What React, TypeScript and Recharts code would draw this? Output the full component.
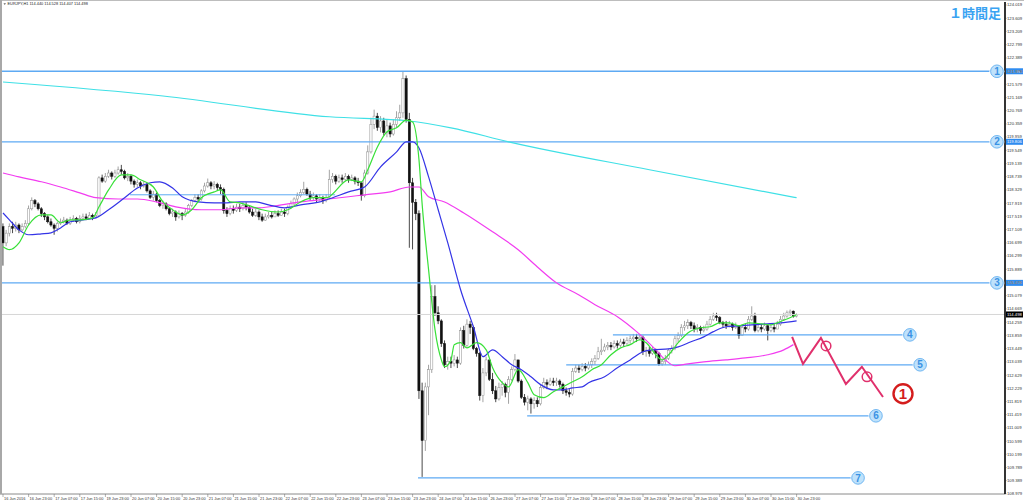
import React from 'react'
import {
  ComposedChart,
  Bar,
  Line,
  XAxis,
  YAxis,
  ReferenceLine,
  ReferenceDot,
} from 'recharts'

// EURJPY H1, 16 Jun 2016 -> 30 Jun 2016, one entry per hourly bar (open = previous close)
const firstOpen = 117.2

const closes = [
  116.7, 117.0, 117.2, 117.15, 117.25, 117.1, 117.2, 117.3, 117.75, 118.0,
  117.9, 117.75, 117.6, 117.5, 117.35, 117.25, 117.15, 117.3, 117.35, 117.4,
  117.3, 117.4, 117.45, 117.35, 117.45, 117.5, 117.45, 117.55, 117.5, 117.55,
  118.7, 118.6, 118.75, 118.85, 118.75, 118.85, 118.95, 118.9, 118.7, 118.75,
  118.6, 118.5, 118.55, 118.45, 118.5, 118.3, 118.1, 118.2, 118.0, 117.85,
  117.9, 117.75, 117.6, 117.65, 117.5, 117.6, 117.55, 117.65, 117.85, 118.0,
  118.1, 118.05, 118.3, 118.45, 118.55, 118.45, 118.5, 118.4, 118.35, 117.7,
  117.6, 117.75, 117.7, 117.8, 117.75, 117.85, 117.8, 117.65, 117.55, 117.65,
  117.5, 117.4, 117.5, 117.55, 117.5, 117.6, 117.55, 117.65, 117.6, 117.8,
  117.9, 118.05, 118.15, 118.25, 118.35, 118.2, 118.1, 118.15, 118.05, 118.1,
  118.0, 118.1, 118.65, 118.75, 118.6, 118.7, 118.65, 118.75, 118.65, 118.7,
  118.6, 118.55, 118.15, 118.85, 119.5, 120.35, 120.6, 120.25, 120.45, 120.1,
  120.3, 120.05, 120.35, 120.55, 120.7, 121.75, 120.5, 118.55, 117.95, 117.6,
  112.15, 110.62, 112.27, 112.8, 115.05, 114.55, 114.3, 113.6, 112.95, 113.05,
  113.0, 113.1, 113.0, 114.0, 113.55, 114.2, 114.1, 113.45, 113.3, 112.0,
  112.7, 113.1, 112.5, 112.15, 111.9, 112.25, 112.35, 112.1, 112.5, 112.8,
  113.1, 112.45, 111.95, 111.8, 111.9, 111.75, 111.85, 111.75, 112.25, 112.4,
  112.35, 112.45, 112.4, 112.45, 112.35, 112.15, 112.1, 112.05, 112.75, 112.85,
  112.8, 112.9, 112.85, 112.95, 113.05, 113.15, 113.35, 113.4, 113.5, 113.55,
  113.5, 113.6, 113.55, 113.65, 113.6, 113.7, 113.75, 113.8, 113.75, 113.8,
  113.35, 113.4, 113.3, 113.4, 113.3, 112.98, 113.05, 113.15, 113.4, 113.45,
  113.75, 113.85, 114.1, 114.15, 114.25, 114.15, 114.05, 114.1, 114.0, 114.05,
  114.2, 114.35, 114.45, 114.4, 114.25, 114.2, 114.15, 114.2, 114.1, 114.15,
  113.85, 114.1, 114.05, 114.35, 114.45, 114.0, 114.1, 114.05, 114.15, 114.0,
  114.1, 114.05, 114.2, 114.35, 114.45, 114.55, 114.6, 114.44, 114.498,
]

const highs = [
  117.3, 117.1, 117.3, 117.35, 117.35, 117.3, 117.3, 117.4, 117.85, 118.1,
  118.05, 117.95, 117.8, 117.65, 117.55, 117.45, 117.3, 117.35, 117.45, 117.5,
  117.45, 117.5, 117.55, 117.5, 117.55, 117.6, 117.6, 117.65, 117.6, 117.65,
  118.75, 118.8, 118.85, 118.95, 118.9, 118.95, 119.05, 119.1, 118.95, 118.85,
  118.8, 118.65, 118.65, 118.6, 118.6, 118.55, 118.35, 118.3, 118.25, 118.05,
  118.0, 117.95, 117.8, 117.75, 117.7, 117.7, 117.65, 117.75, 117.9, 118.05,
  118.2, 118.2, 118.35, 118.55, 118.68, 118.6, 118.6, 118.55, 118.5, 118.4,
  117.8, 117.85, 117.85, 117.9, 117.9, 117.95, 117.95, 117.85, 117.75, 117.75,
  117.7, 117.6, 117.6, 117.65, 117.65, 117.7, 117.7, 117.75, 117.75, 117.85,
  118.0, 118.1, 118.25, 118.35, 118.58, 118.4, 118.3, 118.25, 118.2, 118.2,
  118.15, 118.2, 118.95, 118.85, 118.8, 118.8, 118.8, 118.85, 118.8, 118.8,
  118.75, 118.7, 118.55, 118.95, 119.7, 120.55, 120.8, 120.7, 120.6, 120.55,
  120.5, 120.4, 120.5, 120.75, 120.95, 121.98, 121.85, 120.7, 118.7, 118.05,
  117.7, 112.4, 112.4, 112.95, 115.4, 115.4, 114.75, 114.35, 113.7, 113.2,
  113.2, 113.25, 113.2, 114.1, 114.15, 114.35, 114.3, 114.15, 113.5, 113.35,
  112.85, 113.2, 113.05, 112.7, 112.3, 112.4, 112.45, 112.4, 112.6, 112.9,
  113.28, 113.05, 112.5, 112.05, 112.0, 111.95, 111.95, 111.95, 112.35, 112.55,
  112.5, 112.55, 112.55, 112.55, 112.5, 112.4, 112.25, 112.2, 112.85, 112.95,
  112.95, 113.0, 113.0, 113.05, 113.15, 113.25, 113.5, 113.75, 113.6, 113.65,
  113.65, 113.7, 113.7, 113.75, 113.75, 113.8, 113.85, 113.9, 113.9, 113.9,
  113.85, 113.5, 113.5, 113.5, 113.45, 113.35, 113.15, 113.25, 113.45, 113.55,
  113.85, 113.95, 114.2, 114.3, 114.35, 114.3, 114.25, 114.2, 114.15, 114.15,
  114.3, 114.45, 114.55, 114.55, 114.45, 114.3, 114.3, 114.3, 114.25, 114.25,
  114.15, 114.2, 114.2, 114.45, 114.75, 114.55, 114.2, 114.2, 114.25, 114.2,
  114.2, 114.2, 114.3, 114.45, 114.55, 114.62, 114.65, 114.62, 114.528,
]

const lows = [
  116.0, 116.6, 116.9, 117.0, 117.05, 117.0, 117.05, 117.15, 117.25, 117.7,
  117.8, 117.7, 117.5, 117.4, 117.3, 117.2, 116.95, 117.05, 117.25, 117.3,
  117.25, 117.25, 117.35, 117.3, 117.3, 117.4, 117.4, 117.45, 117.4, 117.45,
  118.5, 118.55, 118.55, 118.7, 118.65, 118.7, 118.8, 118.8, 118.65, 118.6,
  118.5, 118.4, 118.4, 118.35, 118.4, 118.25, 118.05, 118.0, 117.95, 117.8,
  117.75, 117.7, 117.55, 117.5, 117.38, 117.45, 117.4, 117.5, 117.6, 117.8,
  117.95, 117.95, 118.0, 118.25, 118.4, 118.35, 118.35, 118.3, 118.2, 117.6,
  117.5, 117.55, 117.6, 117.65, 117.65, 117.7, 117.7, 117.6, 117.5, 117.5,
  117.4, 117.35, 117.38, 117.45, 117.45, 117.5, 117.5, 117.55, 117.5, 117.55,
  117.75, 117.85, 117.95, 118.1, 118.2, 118.15, 118.0, 118.0, 117.95, 118.0,
  117.9, 117.95, 118.05, 118.55, 118.5, 118.55, 118.55, 118.6, 118.55, 118.6,
  118.5, 118.45, 118.0, 118.1, 118.8, 119.45, 120.2, 120.15, 120.1, 120.0,
  119.95, 119.95, 120.0, 120.25, 120.45, 120.55, 120.4, 116.55, 116.5, 117.4,
  111.9, 109.5, 110.3, 111.4, 112.7, 114.45, 114.2, 113.5, 112.85, 112.8,
  112.85, 112.9, 112.85, 112.95, 113.45, 113.5, 113.9, 113.4, 113.2, 111.85,
  111.8, 112.6, 112.45, 112.05, 111.8, 111.85, 112.0, 111.95, 111.75, 112.45,
  112.75, 112.4, 111.9, 111.7, 111.55, 111.45, 111.6, 111.65, 111.7, 112.2,
  112.2, 112.3, 112.3, 112.3, 112.25, 112.05, 112.0, 111.95, 112.0, 112.7,
  112.7, 112.75, 112.75, 112.8, 112.85, 112.95, 113.1, 113.25, 113.35, 113.4,
  113.4, 113.45, 113.45, 113.5, 113.5, 113.55, 113.6, 113.65, 113.65, 113.7,
  113.25, 113.2, 113.2, 113.25, 113.15, 112.92, 112.92, 112.95, 113.1, 113.3,
  113.4, 113.65, 113.8, 114.0, 114.05, 114.05, 113.95, 113.95, 113.9, 113.95,
  114.0, 114.15, 114.3, 114.3, 114.2, 114.1, 114.05, 114.1, 114.0, 114.05,
  113.75, 113.85, 113.95, 114.0, 114.3, 113.95, 113.95, 113.95, 114.0, 113.7,
  113.95, 113.95, 114.05, 114.15, 114.3, 114.4, 114.45, 114.4, 114.407,
]

// moving averages: [bar index, price]
const greenMA = [
  [0, 116.58], [2, 116.49], [5, 116.7], [8, 117.25], [12, 117.56], [15, 117.56], [18, 117.32],
  [21, 117.41], [24, 117.41], [28, 117.47], [30, 117.81], [33, 118.33], [37, 118.79], [40, 118.79],
  [43, 118.64], [47, 118.42], [50, 117.96], [53, 117.72], [56, 117.56], [59, 117.72], [62, 118.09],
  [66, 118.27], [68, 118.33], [71, 117.96], [74, 117.93], [78, 117.81], [81, 117.72], [86, 117.65],
  [89, 117.72], [93, 117.96], [97, 118.09], [101, 118.09], [108, 118.64], [112, 118.58], [114, 118.95],
  [117, 119.65], [120, 120.12], [123, 120.24], [126, 120.48], [128, 120.42], [130, 119.25], [131, 117.87],
  [133, 115.87], [135, 114.03], [137, 113.1], [138, 112.89], [140, 113.1], [141, 113.57], [143, 113.63],
  [145, 113.47], [148, 113.63], [151, 113.41], [153, 112.86], [156, 112.4], [158, 112.27], [161, 112.8],
  [164, 112.4], [166, 112.03], [169, 111.94], [172, 112.12], [175, 112.27], [178, 112.43], [181, 112.58],
  [184, 112.8], [187, 112.95], [190, 113.26], [193, 113.47], [196, 113.57], [199, 113.72], [201, 113.63],
  [204, 113.26], [206, 113.1], [208, 113.26], [211, 113.63], [214, 113.93], [218, 114.09], [221, 114.12],
  [224, 114.24], [227, 114.24], [230, 114.15], [233, 114.24], [237, 114.21], [240, 114.18], [242, 114.24],
  [245, 114.36], [248, 114.49],
]

const blueMA = [
  [0, 117.62], [2, 117.41], [5, 117.1], [8, 116.95], [12, 116.98], [15, 117.01], [18, 117.16],
  [21, 117.35], [25, 117.41], [29, 117.47], [33, 117.72], [38, 118.09], [42, 118.39], [46, 118.55],
  [49, 118.58], [53, 118.39], [56, 118.12], [61, 117.96], [66, 117.93], [70, 117.93], [74, 117.96],
  [79, 117.96], [83, 117.87], [88, 117.78], [93, 117.87], [99, 117.96], [103, 118.09], [108, 118.27],
  [113, 118.42], [118, 119.04], [123, 119.5], [126, 119.81], [128, 119.81], [130, 119.62], [133, 118.73],
  [136, 117.72], [139, 116.7], [143, 115.26], [147, 114.12], [150, 113.2], [153, 113.41], [156, 113.2],
  [159, 112.95], [162, 112.8], [165, 112.58], [168, 112.34], [172, 112.18], [175, 112.18], [178, 112.24],
  [181, 112.27], [183, 112.4], [188, 112.58], [192, 112.86], [196, 113.1], [200, 113.35], [203, 113.41],
  [208, 113.44], [211, 113.5], [215, 113.66], [219, 113.81], [222, 113.97], [226, 114.12], [230, 114.15],
  [234, 114.18], [239, 114.21], [243, 114.24], [248, 114.3],
]

const magentaMA = [
  [0, 118.85], [5, 118.73], [12, 118.58], [18, 118.42], [24, 118.24], [29, 118.09], [36, 118.05],
  [42, 118.05], [48, 117.96], [54, 117.81], [62, 117.72], [68, 117.72], [74, 117.78], [80, 117.78],
  [87, 117.87], [93, 117.96], [99, 118.02], [108, 118.12], [113, 118.18], [121, 118.27], [127, 118.42],
  [130, 118.42], [133, 118.12], [138, 117.96], [144, 117.62], [153, 117.04], [161, 116.49], [167, 115.96],
  [173, 115.47], [180, 115.1], [185, 114.8], [192, 114.43], [198, 113.97], [204, 113.41], [207, 113.1],
  [210, 112.92], [214, 112.98], [219, 113.04], [226, 113.1], [232, 113.16], [239, 113.26], [244, 113.41],
  [247, 113.57],
]

const cyanMA = [
  [0, 121.65], [50, 121.22], [102, 120.58], [127, 120.45], [140, 120.24], [158, 119.81],
  [202, 118.95], [248, 118.09],
]

// hand-drawn projection (red) and its two retest circles
const zigzag = [
  [246.6, 113.81], [250, 112.98], [255.6, 113.78], [263.4, 112.36], [268.4, 112.89], [275, 111.96],
]
const retests = [
  [257.2, 113.53], [270, 112.58],
]
const redMark = [281.25, 112.06]

// horizontal levels: label, price, start bar, end bar, marker bar
const levels = [
  { n: '1', price: 121.98, from: -0.9, to: 308.4, mark: 310.6 },
  { n: '2', price: 119.81, from: -0.9, to: 308.4, mark: 310.6 },
  { n: '3', price: 115.47, from: -0.9, to: 308.4, mark: 310.6 },
  { n: '4', price: 113.87, from: 190.6, to: 281.3, mark: 283.4 },
  { n: '5', price: 112.95, from: 176, to: 284.4, mark: 286.6 },
  { n: '6', price: 111.38, from: 163.8, to: 270.6, mark: 272.8 },
  { n: '7', price: 109.47, from: 129.7, to: 265, mark: 267.2 },
]
const oldLevel = { price: 118.18, from: 39.7, to: 103.8 }

const priceTags = [
  { price: 121.98, text: '121.983' },
  { price: 119.81, text: '119.806' },
  { price: 115.47, text: '115.478' },
]
const lastPrice = 114.498

const yTicks = [
  124.019, 123.609, 123.209, 122.799, 122.389, 121.979, 121.579, 121.169, 120.769, 120.359,
  119.959, 119.549, 119.139, 118.739, 118.329, 117.919, 117.519, 117.109, 116.699, 116.299,
  115.889, 115.479, 115.079, 114.669, 114.259, 113.859, 113.449, 113.039, 112.629, 112.229,
  111.819, 111.419, 111.009, 110.599, 110.199, 109.789, 109.389, 108.979,
]

const xLabels = [
  '16 Jun 2016', '16 Jun 23:00', '17 Jun 07:00', '17 Jun 15:00', '19 Jun 23:00', '20 Jun 07:00',
  '20 Jun 15:00', '20 Jun 23:00', '21 Jun 07:00', '21 Jun 15:00', '21 Jun 23:00', '22 Jun 07:00',
  '22 Jun 15:00', '22 Jun 23:00', '23 Jun 07:00', '23 Jun 15:00', '23 Jun 23:00', '24 Jun 07:00',
  '24 Jun 15:00', '26 Jun 23:00', '27 Jun 07:00', '27 Jun 15:00', '27 Jun 23:00', '28 Jun 07:00',
  '28 Jun 15:00', '28 Jun 23:00', '29 Jun 07:00', '29 Jun 15:00', '29 Jun 23:00', '30 Jun 07:00',
  '30 Jun 15:00', '30 Jun 23:00',
]
const xTicks = xLabels.map((_, k) => k * 8)

type Row = { [key: string]: number | undefined; x: number }

const rows: Row[] = closes.map((c, i) => {
  const o = i === 0 ? firstOpen : closes[i - 1]
  return { x: i, o, c, h: Math.max(highs[i], o, c), l: Math.min(lows[i], o, c) }
})
const put = (list: number[][], key: string) =>
  list.forEach(([i, v]) => {
    rows[i][key] = v
  })
put(greenMA, 'green')
put(blueMA, 'blue')
put(magentaMA, 'magenta')
put(cyanMA, 'cyan')
const data: Row[] = [...rows, ...zigzag.map(([x, v]) => ({ x, zig: v }))].sort((a, b) => a.x - b.x)

const FONT = '"Liberation Sans", Arial, sans-serif'
const LEVEL = '#5eaaf3'
const RED = '#e0306c'

const Candle = (props: any) => {
  const { x, y, width, height, payload } = props
  if (!payload || payload.h == null || !isFinite(y)) return null
  const { o, c, h, l } = payload
  const hgt = Math.abs(height)
  const top = Math.min(y, y + height)
  const k = h - l > 0 ? hgt / (h - l) : 0
  const cx = x + width / 2
  const bTop = top + (h - Math.max(o, c)) * k
  const bH = Math.max((Math.max(o, c) - Math.min(o, c)) * k, 0.6)
  const up = c >= o
  return (
    <g>
      <line x1={cx} x2={cx} y1={top} y2={top + hgt} stroke={up ? '#8c8c8c' : '#1a1a1a'} strokeWidth={0.8} />
      <rect
        x={cx - 1.1}
        y={bTop}
        width={2.2}
        height={bH}
        fill={up ? '#ffffff' : '#111111'}
        stroke={up ? '#8c8c8c' : '#111111'}
        strokeWidth={0.5}
      />
    </g>
  )
}

const XTick = ({ x, y, payload }: any) => (
  <g>
    <line x1={x} x2={x} y1={y - 2} y2={y + 1} stroke="#666" strokeWidth={0.5} />
    <text x={x + 1} y={y + 4} fontSize={3.9} fill="#333" fontFamily={FONT} textAnchor="start">
      {xLabels[Math.round(payload.value / 8)]}
    </text>
  </g>
)

const YTick = ({ x, y, payload }: any) => (
  <text x={x} y={y + 1.4} fontSize={4.2} fill="#333" fontFamily={FONT} textAnchor="start">
    {payload.value.toFixed(3)}
  </text>
)

const BlueMark = ({ cx, cy, n }: { cx: number; cy: number; n: string }) => (
  <g>
    <circle cx={cx} cy={cy} r={7.5} fill="#ffffff" opacity={0.9} />
    <circle cx={cx} cy={cy} r={6.3} fill="#bfe2fb" stroke="#6fb6f2" strokeWidth={1} />
    <text
      x={cx}
      y={cy + 3.6}
      textAnchor="middle"
      fontSize={10}
      fontWeight="bold"
      fill="#3a92e4"
      fontFamily={FONT}
    >
      {n}
    </text>
  </g>
)

const PriceTag = ({ cx, cy, text, dark }: { cx: number; cy: number; text: string; dark?: boolean }) => (
  <g>
    <rect x={cx + 1} y={cy - 3} width={17} height={6} fill={dark ? '#000' : '#2f8cf0'} />
    <text x={cx + 2} y={cy + 1.5} fontSize={4.2} fill="#fff" fontFamily={FONT}>
      {text}
    </text>
  </g>
)

export default function App() {
  return (
    <div style={{ position: 'relative', width: 1024, height: 504, background: '#fff' }}>
      <style>{'body{margin:0}'}</style>
      <ComposedChart
        width={1024}
        height={504}
        data={data}
        margin={{ top: 2, right: 0, bottom: 0, left: 0 }}
      >
        <XAxis
          dataKey="x"
          type="number"
          domain={[-0.9375, 313.125]}
          allowDataOverflow
          ticks={xTicks}
          interval={0}
          height={10}
          tickSize={0}
          tickMargin={2}
          tick={<XTick />}
          axisLine={{ stroke: '#8a8a8a', strokeWidth: 1 }}
        />
        <YAxis
          orientation="right"
          type="number"
          domain={[108.975, 124.111]}
          allowDataOverflow
          ticks={yTicks}
          interval={0}
          width={19}
          tickSize={1.5}
          tickMargin={0.5}
          tick={<YTick />}
          tickLine={{ stroke: '#333', strokeWidth: 0.5 }}
          axisLine={{ stroke: '#000', strokeWidth: 1.6 }}
        />

        <ReferenceLine y={lastPrice} stroke="#d6d6d6" strokeWidth={1} />
        {levels.map((lv) => (
          <ReferenceLine
            key={lv.n}
            segment={[
              { x: lv.from, y: lv.price },
              { x: lv.to, y: lv.price },
            ]}
            stroke={LEVEL}
            strokeWidth={1.3}
            ifOverflow="visible"
          />
        ))}
        <ReferenceLine
          segment={[
            { x: oldLevel.from, y: oldLevel.price },
            { x: oldLevel.to, y: oldLevel.price },
          ]}
          stroke={LEVEL}
          strokeWidth={1}
          ifOverflow="visible"
        />

        <Line dataKey="cyan" stroke="#3fe0e6" strokeWidth={1.2} dot={false} connectNulls type="monotone" isAnimationActive={false} />
        <Line dataKey="magenta" stroke="#f23cf0" strokeWidth={1.2} dot={false} connectNulls type="monotone" isAnimationActive={false} />
        <Bar dataKey={(d: Row) => (d.h != null ? [d.l, d.h] : null)} barSize={2} shape={<Candle />} isAnimationActive={false} />
        <Line dataKey="blue" stroke="#3434e6" strokeWidth={1.2} dot={false} connectNulls type="monotone" isAnimationActive={false} />
        <Line dataKey="green" stroke="#38e038" strokeWidth={1.2} dot={false} connectNulls type="monotone" isAnimationActive={false} />
        <Line dataKey="zig" stroke={RED} strokeWidth={2} dot={false} connectNulls type="linear" isAnimationActive={false} />

        {retests.map(([x, v], k) => (
          <ReferenceDot key={k} x={x} y={v} r={4.8} fill="none" stroke={RED} strokeWidth={1.5} />
        ))}
        <ReferenceDot
          x={redMark[0]}
          y={redMark[1]}
          r={10}
          shape={(p: any) => (
            <g>
              <circle cx={p.cx} cy={p.cy} r={9.5} fill="#fff" stroke="#d41c1c" strokeWidth={2.4} />
              <text x={p.cx} y={p.cy + 5.5} textAnchor="middle" fontSize={15} fontWeight="bold" fill="#d41c1c" fontFamily={FONT}>
                1
              </text>
            </g>
          )}
        />
        {levels.map((lv) => (
          <ReferenceDot
            key={'m' + lv.n}
            x={lv.mark}
            y={lv.price}
            r={7}
            shape={(p: any) => <BlueMark cx={p.cx} cy={p.cy} n={lv.n} />}
          />
        ))}
        {priceTags.map((t) => (
          <ReferenceDot
            key={t.text}
            x={313.125}
            y={t.price}
            r={1}
            ifOverflow="visible"
            shape={(p: any) => <PriceTag cx={p.cx} cy={p.cy} text={t.text} />}
          />
        ))}
        <ReferenceDot
          x={313.125}
          y={lastPrice}
          r={1}
          ifOverflow="visible"
          shape={(p: any) => <PriceTag cx={p.cx} cy={p.cy} text={lastPrice.toFixed(3)} dark />}
        />
      </ComposedChart>

      <svg width={1024} height={504} style={{ position: 'absolute', left: 0, top: 0, pointerEvents: 'none' }}>
        <rect x={0} y={0} width={1024} height={1} fill="#bdbdbd" />
        <rect x={0} y={0} width={2} height={494} fill="#a8a8a8" />
        <path d="M3.5 3.2 L6 3.2 L4.75 5 Z" fill="#666" />
        <text x={7.5} y={5} fontSize={3.9} fill="#222" fontFamily={FONT}>
          EURJPY,H1  114.440 114.528 114.407 114.498
        </text>
        <text
          x={1001}
          y={18}
          textAnchor="end"
          fontSize={13}
          fontWeight="bold"
          fill="#3aa3f2"
          stroke="#ffffff"
          strokeWidth={2}
          paintOrder="stroke"
          fontFamily='"Noto Sans CJK JP", sans-serif'
        >
          １時間足
        </text>
      </svg>
    </div>
  )
}
